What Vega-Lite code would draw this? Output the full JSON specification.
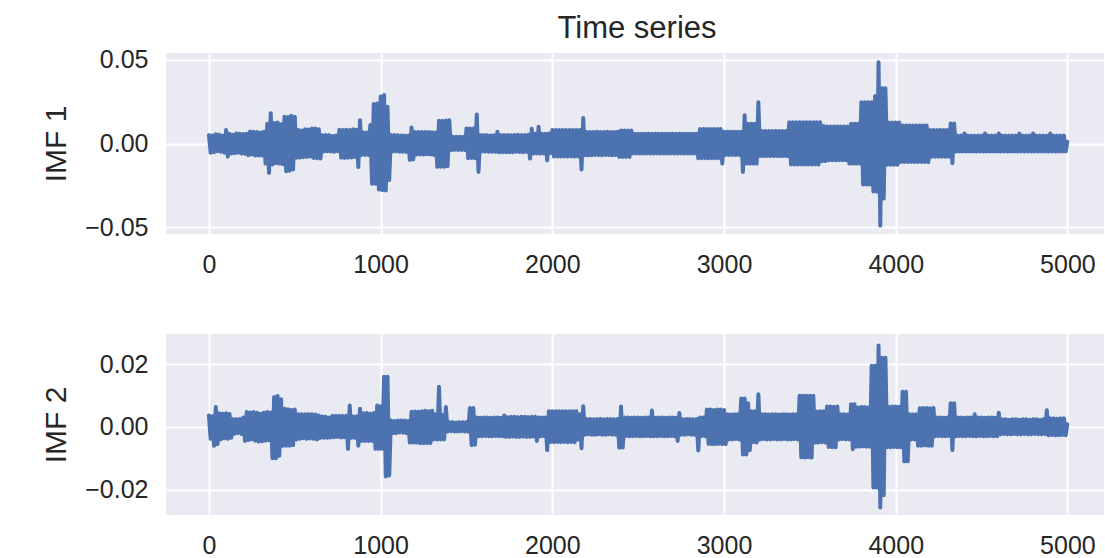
{
  "$schema": "https://vega.github.io/schema/vega-lite/v6.json",
  "padding": {"left": 41, "top": 12, "right": 0, "bottom": 0},
  "spacing": 100,
  "bounds": "flush",
  "data": {"values": [
{"t":0,"a":0.0050,"b":0.0036},{"t":10,"a":-0.0055,"b":-0.0038},{"t":20,"a":0.0048,"b":0.0034},{"t":30,"a":-0.0052,"b":-0.0060},{"t":40,"a":0.0055,"b":0.0063},{"t":50,"a":-0.0046,"b":-0.0055},{"t":60,"a":0.0053,"b":0.0043},{"t":70,"a":-0.0050,"b":-0.0040},{"t":80,"a":0.0047,"b":0.0042},{"t":90,"a":-0.0055,"b":-0.0036},
{"t":100,"a":0.0080,"b":0.0043},{"t":110,"a":-0.0078,"b":-0.0038},{"t":120,"a":0.0058,"b":0.0041},{"t":130,"a":-0.0060,"b":-0.0035},{"t":140,"a":0.0052,"b":0.0025},{"t":150,"a":-0.0058,"b":-0.0022},{"t":160,"a":0.0060,"b":0.0024},{"t":170,"a":-0.0055,"b":-0.0020},{"t":180,"a":0.0058,"b":0.0025},{"t":190,"a":-0.0060,"b":-0.0023},
{"t":200,"a":0.0056,"b":0.0030},{"t":210,"a":-0.0062,"b":-0.0045},{"t":220,"a":0.0058,"b":0.0047},{"t":230,"a":-0.0070,"b":-0.0042},{"t":240,"a":0.0072,"b":0.0046},{"t":250,"a":-0.0066,"b":-0.0040},{"t":260,"a":0.0070,"b":0.0047},{"t":270,"a":-0.0072,"b":-0.0044},{"t":280,"a":0.0068,"b":0.0045},{"t":290,"a":-0.0071,"b":-0.0047},
{"t":300,"a":0.0065,"b":0.0042},{"t":310,"a":-0.0072,"b":-0.0046},{"t":320,"a":0.0070,"b":0.0045},{"t":330,"a":-0.0120,"b":-0.0044},{"t":340,"a":0.0118,"b":0.0047},{"t":350,"a":-0.0175,"b":-0.0043},{"t":360,"a":0.0180,"b":0.0046},{"t":370,"a":-0.0125,"b":-0.0100},{"t":380,"a":0.0122,"b":0.0095},{"t":390,"a":-0.0118,"b":-0.0100},
{"t":400,"a":0.0125,"b":0.0098},{"t":410,"a":-0.0120,"b":-0.0092},{"t":420,"a":0.0115,"b":0.0088},{"t":430,"a":-0.0124,"b":-0.0060},{"t":440,"a":0.0160,"b":0.0058},{"t":450,"a":-0.0165,"b":-0.0060},{"t":460,"a":0.0158,"b":0.0056},{"t":470,"a":-0.0162,"b":-0.0060},{"t":480,"a":0.0165,"b":0.0054},{"t":490,"a":-0.0155,"b":-0.0058},
{"t":500,"a":0.0160,"b":0.0055},{"t":510,"a":-0.0085,"b":-0.0040},{"t":520,"a":0.0080,"b":0.0040},{"t":530,"a":-0.0085,"b":-0.0038},{"t":540,"a":0.0078,"b":0.0040},{"t":550,"a":-0.0082,"b":-0.0036},{"t":560,"a":0.0085,"b":0.0040},{"t":570,"a":-0.0080,"b":-0.0038},{"t":580,"a":0.0084,"b":0.0040},{"t":590,"a":-0.0078,"b":-0.0037},
{"t":600,"a":0.0090,"b":0.0040},{"t":610,"a":-0.0086,"b":-0.0038},{"t":620,"a":0.0090,"b":0.0039},{"t":630,"a":-0.0088,"b":-0.0040},{"t":640,"a":0.0085,"b":0.0036},{"t":650,"a":-0.0090,"b":-0.0035},{"t":660,"a":0.0050,"b":0.0033},{"t":670,"a":-0.0048,"b":-0.0035},{"t":680,"a":0.0050,"b":0.0032},{"t":690,"a":-0.0046,"b":-0.0035},
{"t":700,"a":0.0050,"b":0.0030},{"t":710,"a":-0.0048,"b":-0.0034},{"t":720,"a":0.0045,"b":0.0035},{"t":730,"a":-0.0050,"b":-0.0033},{"t":740,"a":0.0048,"b":0.0035},{"t":750,"a":-0.0046,"b":-0.0032},{"t":760,"a":0.0082,"b":0.0035},{"t":770,"a":-0.0085,"b":-0.0034},{"t":780,"a":0.0080,"b":0.0035},{"t":790,"a":-0.0086,"b":-0.0033},
{"t":800,"a":0.0082,"b":0.0035},{"t":810,"a":-0.0085,"b":-0.0070},{"t":820,"a":0.0080,"b":0.0068},{"t":830,"a":-0.0084,"b":-0.0035},{"t":840,"a":0.0085,"b":0.0033},{"t":850,"a":-0.0080,"b":-0.0035},{"t":860,"a":0.0082,"b":0.0034},{"t":870,"a":-0.0140,"b":-0.0060},{"t":880,"a":0.0138,"b":0.0058},{"t":890,"a":-0.0068,"b":-0.0045},
{"t":900,"a":0.0065,"b":0.0043},{"t":910,"a":-0.0068,"b":-0.0045},{"t":920,"a":0.0066,"b":0.0044},{"t":930,"a":-0.0068,"b":-0.0045},{"t":940,"a":0.0110,"b":0.0042},{"t":950,"a":-0.0240,"b":-0.0045},{"t":960,"a":0.0235,"b":0.0044},{"t":970,"a":-0.0240,"b":-0.0070},{"t":980,"a":0.0238,"b":0.0068},{"t":990,"a":-0.0275,"b":-0.0070},
{"t":1000,"a":0.0280,"b":0.0066},{"t":1010,"a":-0.0278,"b":-0.0070},{"t":1020,"a":0.0290,"b":0.0160},{"t":1030,"a":-0.0280,"b":-0.0158},{"t":1040,"a":0.0220,"b":0.0160},{"t":1050,"a":-0.0218,"b":-0.0155},{"t":1060,"a":0.0050,"b":0.0020},{"t":1070,"a":-0.0048,"b":-0.0020},{"t":1080,"a":0.0050,"b":0.0019},{"t":1090,"a":-0.0047,"b":-0.0020},
{"t":1100,"a":0.0050,"b":0.0020},{"t":1110,"a":-0.0049,"b":-0.0018},{"t":1120,"a":0.0048,"b":0.0020},{"t":1130,"a":-0.0050,"b":-0.0019},{"t":1140,"a":0.0047,"b":0.0020},{"t":1150,"a":-0.0050,"b":-0.0020},{"t":1160,"a":0.0048,"b":0.0019},{"t":1170,"a":-0.0098,"b":-0.0050},{"t":1180,"a":0.0096,"b":0.0048},{"t":1190,"a":-0.0095,"b":-0.0050},
{"t":1200,"a":0.0068,"b":0.0049},{"t":1210,"a":-0.0066,"b":-0.0050},{"t":1220,"a":0.0068,"b":0.0048},{"t":1230,"a":-0.0065,"b":-0.0052},{"t":1240,"a":0.0068,"b":0.0050},{"t":1250,"a":-0.0066,"b":-0.0052},{"t":1260,"a":0.0068,"b":0.0051},{"t":1270,"a":-0.0064,"b":-0.0052},{"t":1280,"a":0.0068,"b":0.0050},{"t":1290,"a":-0.0066,"b":-0.0052},
{"t":1300,"a":0.0067,"b":0.0051},{"t":1310,"a":-0.0068,"b":-0.0040},{"t":1320,"a":0.0066,"b":0.0040},{"t":1330,"a":-0.0139,"b":-0.0040},{"t":1340,"a":0.0136,"b":0.0128},{"t":1350,"a":-0.0139,"b":-0.0040},{"t":1360,"a":0.0135,"b":0.0038},{"t":1370,"a":-0.0138,"b":-0.0040},{"t":1380,"a":0.0137,"b":0.0063},{"t":1390,"a":-0.0135,"b":-0.0015},
{"t":1400,"a":0.0138,"b":0.0015},{"t":1410,"a":-0.0040,"b":-0.0014},{"t":1420,"a":0.0040,"b":0.0015},{"t":1430,"a":-0.0038,"b":-0.0015},{"t":1440,"a":0.0040,"b":0.0014},{"t":1450,"a":-0.0039,"b":-0.0015},{"t":1460,"a":0.0040,"b":0.0015},{"t":1470,"a":-0.0038,"b":-0.0014},{"t":1480,"a":0.0040,"b":0.0015},{"t":1490,"a":-0.0039,"b":-0.0015},
{"t":1500,"a":0.0090,"b":0.0015},{"t":1510,"a":-0.0088,"b":-0.0015},{"t":1520,"a":0.0090,"b":0.0060},{"t":1530,"a":-0.0086,"b":-0.0058},{"t":1540,"a":0.0089,"b":0.0060},{"t":1550,"a":-0.0088,"b":-0.0057},{"t":1560,"a":0.0173,"b":0.0030},{"t":1570,"a":-0.0170,"b":-0.0030},{"t":1580,"a":0.0050,"b":0.0029},{"t":1590,"a":-0.0048,"b":-0.0030},
{"t":1600,"a":0.0050,"b":0.0030},{"t":1610,"a":-0.0048,"b":-0.0029},{"t":1620,"a":0.0050,"b":0.0030},{"t":1630,"a":-0.0049,"b":-0.0030},{"t":1640,"a":0.0048,"b":0.0029},{"t":1650,"a":-0.0050,"b":-0.0030},{"t":1660,"a":0.0049,"b":0.0030},{"t":1670,"a":-0.0050,"b":-0.0029},{"t":1680,"a":0.0070,"b":0.0030},{"t":1690,"a":-0.0052,"b":-0.0030},
{"t":1700,"a":0.0050,"b":0.0029},{"t":1710,"a":-0.0052,"b":-0.0030},{"t":1720,"a":0.0050,"b":0.0036},{"t":1730,"a":-0.0052,"b":-0.0032},{"t":1740,"a":0.0051,"b":0.0031},{"t":1750,"a":-0.0052,"b":-0.0032},{"t":1760,"a":0.0050,"b":0.0032},{"t":1770,"a":-0.0052,"b":-0.0031},{"t":1780,"a":0.0051,"b":0.0032},{"t":1790,"a":-0.0050,"b":-0.0032},
{"t":1800,"a":0.0052,"b":0.0031},{"t":1810,"a":-0.0051,"b":-0.0032},{"t":1820,"a":0.0050,"b":0.0032},{"t":1830,"a":-0.0052,"b":-0.0031},{"t":1840,"a":0.0051,"b":0.0032},{"t":1850,"a":-0.0050,"b":-0.0032},{"t":1860,"a":0.0052,"b":0.0031},{"t":1870,"a":-0.0090,"b":-0.0032},{"t":1880,"a":0.0088,"b":0.0032},{"t":1890,"a":-0.0060,"b":-0.0031},
{"t":1900,"a":0.0058,"b":0.0032},{"t":1910,"a":-0.0060,"b":-0.0045},{"t":1920,"a":0.0100,"b":0.0030},{"t":1930,"a":-0.0060,"b":-0.0031},{"t":1940,"a":0.0058,"b":0.0030},{"t":1950,"a":-0.0060,"b":-0.0029},{"t":1960,"a":0.0058,"b":0.0030},{"t":1970,"a":-0.0100,"b":-0.0074},{"t":1980,"a":0.0060,"b":0.0050},{"t":1990,"a":-0.0058,"b":-0.0048},
{"t":2000,"a":0.0080,"b":0.0050},{"t":2010,"a":-0.0078,"b":-0.0049},{"t":2020,"a":0.0080,"b":0.0050},{"t":2030,"a":-0.0077,"b":-0.0048},{"t":2040,"a":0.0080,"b":0.0050},{"t":2050,"a":-0.0078,"b":-0.0049},{"t":2060,"a":0.0080,"b":0.0050},{"t":2070,"a":-0.0077,"b":-0.0048},{"t":2080,"a":0.0080,"b":0.0050},{"t":2090,"a":-0.0078,"b":-0.0049},
{"t":2100,"a":0.0080,"b":0.0050},{"t":2110,"a":-0.0077,"b":-0.0048},{"t":2120,"a":0.0080,"b":0.0050},{"t":2130,"a":-0.0078,"b":-0.0049},{"t":2140,"a":0.0080,"b":0.0050},{"t":2150,"a":-0.0077,"b":-0.0040},{"t":2160,"a":0.0080,"b":0.0040},{"t":2170,"a":-0.0155,"b":-0.0068},{"t":2180,"a":0.0152,"b":0.0066},{"t":2190,"a":-0.0070,"b":-0.0025},
{"t":2200,"a":0.0068,"b":0.0025},{"t":2210,"a":-0.0070,"b":-0.0024},{"t":2220,"a":0.0068,"b":0.0025},{"t":2230,"a":-0.0070,"b":-0.0025},{"t":2240,"a":0.0069,"b":0.0024},{"t":2250,"a":-0.0068,"b":-0.0025},{"t":2260,"a":0.0070,"b":0.0025},{"t":2270,"a":-0.0069,"b":-0.0024},{"t":2280,"a":0.0068,"b":0.0025},{"t":2290,"a":-0.0070,"b":-0.0025},
{"t":2300,"a":0.0069,"b":0.0024},{"t":2310,"a":-0.0068,"b":-0.0025},{"t":2320,"a":0.0070,"b":0.0025},{"t":2330,"a":-0.0069,"b":-0.0024},{"t":2340,"a":0.0068,"b":0.0025},{"t":2350,"a":-0.0070,"b":-0.0025},{"t":2360,"a":0.0069,"b":0.0024},{"t":2370,"a":-0.0068,"b":-0.0025},{"t":2380,"a":0.0070,"b":0.0025},{"t":2390,"a":-0.0080,"b":-0.0066},
{"t":2400,"a":0.0078,"b":0.0065},{"t":2410,"a":-0.0080,"b":-0.0066},{"t":2420,"a":0.0078,"b":0.0030},{"t":2430,"a":-0.0080,"b":-0.0029},{"t":2440,"a":0.0078,"b":0.0030},{"t":2450,"a":-0.0080,"b":-0.0030},{"t":2460,"a":0.0078,"b":0.0029},{"t":2470,"a":-0.0060,"b":-0.0030},{"t":2480,"a":0.0058,"b":0.0030},{"t":2490,"a":-0.0060,"b":-0.0029},
{"t":2500,"a":0.0058,"b":0.0030},{"t":2510,"a":-0.0060,"b":-0.0030},{"t":2520,"a":0.0058,"b":0.0029},{"t":2530,"a":-0.0060,"b":-0.0030},{"t":2540,"a":0.0058,"b":0.0030},{"t":2550,"a":-0.0060,"b":-0.0029},{"t":2560,"a":0.0058,"b":0.0030},{"t":2570,"a":-0.0060,"b":-0.0030},{"t":2580,"a":0.0058,"b":0.0052},{"t":2590,"a":-0.0060,"b":-0.0030},
{"t":2600,"a":0.0058,"b":0.0029},{"t":2610,"a":-0.0060,"b":-0.0030},{"t":2620,"a":0.0058,"b":0.0030},{"t":2630,"a":-0.0060,"b":-0.0029},{"t":2640,"a":0.0058,"b":0.0030},{"t":2650,"a":-0.0060,"b":-0.0030},{"t":2660,"a":0.0058,"b":0.0029},{"t":2670,"a":-0.0060,"b":-0.0030},{"t":2680,"a":0.0058,"b":0.0030},{"t":2690,"a":-0.0060,"b":-0.0029},
{"t":2700,"a":0.0058,"b":0.0030},{"t":2710,"a":-0.0060,"b":-0.0030},{"t":2720,"a":0.0058,"b":0.0029},{"t":2730,"a":-0.0060,"b":-0.0045},{"t":2740,"a":0.0058,"b":0.0044},{"t":2750,"a":-0.0060,"b":-0.0025},{"t":2760,"a":0.0058,"b":0.0024},{"t":2770,"a":-0.0060,"b":-0.0025},{"t":2780,"a":0.0058,"b":0.0025},{"t":2790,"a":-0.0060,"b":-0.0024},
{"t":2800,"a":0.0058,"b":0.0025},{"t":2810,"a":-0.0060,"b":-0.0025},{"t":2820,"a":0.0058,"b":0.0024},{"t":2830,"a":-0.0060,"b":-0.0025},{"t":2840,"a":0.0058,"b":0.0025},{"t":2850,"a":-0.0088,"b":-0.0075},{"t":2860,"a":0.0086,"b":0.0030},{"t":2870,"a":-0.0088,"b":-0.0029},{"t":2880,"a":0.0086,"b":0.0030},{"t":2890,"a":-0.0088,"b":-0.0030},
{"t":2900,"a":0.0086,"b":0.0055},{"t":2910,"a":-0.0088,"b":-0.0054},{"t":2920,"a":0.0086,"b":0.0055},{"t":2930,"a":-0.0088,"b":-0.0055},{"t":2940,"a":0.0086,"b":0.0054},{"t":2950,"a":-0.0088,"b":-0.0055},{"t":2960,"a":0.0086,"b":0.0055},{"t":2970,"a":-0.0088,"b":-0.0054},{"t":2980,"a":0.0086,"b":0.0055},{"t":2990,"a":-0.0120,"b":-0.0055},
{"t":3000,"a":0.0070,"b":0.0054},{"t":3010,"a":-0.0068,"b":-0.0055},{"t":3020,"a":0.0070,"b":0.0040},{"t":3030,"a":-0.0069,"b":-0.0040},{"t":3040,"a":0.0070,"b":0.0039},{"t":3050,"a":-0.0068,"b":-0.0040},{"t":3060,"a":0.0070,"b":0.0040},{"t":3070,"a":-0.0069,"b":-0.0039},{"t":3080,"a":0.0070,"b":0.0040},{"t":3090,"a":-0.0068,"b":-0.0040},
{"t":3100,"a":0.0070,"b":0.0090},{"t":3110,"a":-0.0170,"b":-0.0088},{"t":3120,"a":0.0168,"b":0.0090},{"t":3130,"a":-0.0120,"b":-0.0088},{"t":3140,"a":0.0118,"b":0.0075},{"t":3150,"a":-0.0120,"b":-0.0074},{"t":3160,"a":0.0118,"b":0.0050},{"t":3170,"a":-0.0120,"b":-0.0049},{"t":3180,"a":0.0118,"b":0.0050},{"t":3190,"a":-0.0120,"b":-0.0050},
{"t":3200,"a":0.0246,"b":0.0104},{"t":3210,"a":-0.0075,"b":-0.0040},{"t":3220,"a":0.0074,"b":0.0040},{"t":3230,"a":-0.0075,"b":-0.0039},{"t":3240,"a":0.0074,"b":0.0040},{"t":3250,"a":-0.0075,"b":-0.0040},{"t":3260,"a":0.0074,"b":0.0039},{"t":3270,"a":-0.0075,"b":-0.0040},{"t":3280,"a":0.0074,"b":0.0040},{"t":3290,"a":-0.0075,"b":-0.0039},
{"t":3300,"a":0.0074,"b":0.0040},{"t":3310,"a":-0.0075,"b":-0.0040},{"t":3320,"a":0.0074,"b":0.0039},{"t":3330,"a":-0.0075,"b":-0.0040},{"t":3340,"a":0.0074,"b":0.0040},{"t":3350,"a":-0.0075,"b":-0.0039},{"t":3360,"a":0.0074,"b":0.0040},{"t":3370,"a":-0.0075,"b":-0.0040},{"t":3380,"a":0.0127,"b":0.0039},{"t":3390,"a":-0.0125,"b":-0.0040},
{"t":3400,"a":0.0127,"b":0.0040},{"t":3410,"a":-0.0125,"b":-0.0039},{"t":3420,"a":0.0127,"b":0.0040},{"t":3430,"a":-0.0125,"b":-0.0040},{"t":3440,"a":0.0127,"b":0.0099},{"t":3450,"a":-0.0125,"b":-0.0097},{"t":3460,"a":0.0127,"b":0.0099},{"t":3470,"a":-0.0125,"b":-0.0098},{"t":3480,"a":0.0127,"b":0.0099},{"t":3490,"a":-0.0125,"b":-0.0097},
{"t":3500,"a":0.0127,"b":0.0099},{"t":3510,"a":-0.0125,"b":-0.0098},{"t":3520,"a":0.0127,"b":0.0099},{"t":3530,"a":-0.0125,"b":-0.0050},{"t":3540,"a":0.0127,"b":0.0049},{"t":3550,"a":-0.0125,"b":-0.0050},{"t":3560,"a":0.0127,"b":0.0050},{"t":3570,"a":-0.0105,"b":-0.0049},{"t":3580,"a":0.0104,"b":0.0050},{"t":3590,"a":-0.0105,"b":-0.0050},
{"t":3600,"a":0.0101,"b":0.0065},{"t":3610,"a":-0.0100,"b":-0.0064},{"t":3620,"a":0.0101,"b":0.0065},{"t":3630,"a":-0.0100,"b":-0.0065},{"t":3640,"a":0.0101,"b":0.0064},{"t":3650,"a":-0.0100,"b":-0.0065},{"t":3660,"a":0.0101,"b":0.0065},{"t":3670,"a":-0.0100,"b":-0.0040},{"t":3680,"a":0.0101,"b":0.0040},{"t":3690,"a":-0.0100,"b":-0.0039},
{"t":3700,"a":0.0101,"b":0.0040},{"t":3710,"a":-0.0100,"b":-0.0040},{"t":3720,"a":0.0101,"b":0.0039},{"t":3730,"a":-0.0120,"b":-0.0040},{"t":3740,"a":0.0118,"b":0.0072},{"t":3750,"a":-0.0120,"b":-0.0071},{"t":3760,"a":0.0118,"b":0.0072},{"t":3770,"a":-0.0120,"b":-0.0063},{"t":3780,"a":0.0118,"b":0.0062},{"t":3790,"a":-0.0120,"b":-0.0063},
{"t":3800,"a":0.0246,"b":0.0063},{"t":3810,"a":-0.0244,"b":-0.0062},{"t":3820,"a":0.0246,"b":0.0063},{"t":3830,"a":-0.0244,"b":-0.0063},{"t":3840,"a":0.0246,"b":0.0062},{"t":3850,"a":-0.0244,"b":-0.0063},{"t":3860,"a":0.0246,"b":0.0195},{"t":3870,"a":-0.0286,"b":-0.0193},{"t":3880,"a":0.0284,"b":0.0195},{"t":3890,"a":-0.0286,"b":-0.0193},
{"t":3900,"a":0.0485,"b":0.0259},{"t":3910,"a":-0.0490,"b":-0.0257},{"t":3920,"a":0.0330,"b":0.0220},{"t":3930,"a":-0.0328,"b":-0.0218},{"t":3940,"a":0.0330,"b":0.0220},{"t":3950,"a":-0.0127,"b":-0.0065},{"t":3960,"a":0.0125,"b":0.0064},{"t":3970,"a":-0.0127,"b":-0.0065},{"t":3980,"a":0.0125,"b":0.0065},{"t":3990,"a":-0.0127,"b":-0.0064},
{"t":4000,"a":0.0125,"b":0.0065},{"t":4010,"a":-0.0127,"b":-0.0065},{"t":4020,"a":0.0125,"b":0.0064},{"t":4030,"a":-0.0110,"b":-0.0065},{"t":4040,"a":0.0108,"b":0.0112},{"t":4050,"a":-0.0110,"b":-0.0110},{"t":4060,"a":0.0108,"b":0.0112},{"t":4070,"a":-0.0110,"b":-0.0110},{"t":4080,"a":0.0108,"b":0.0040},{"t":4090,"a":-0.0110,"b":-0.0040},
{"t":4100,"a":0.0108,"b":0.0039},{"t":4110,"a":-0.0110,"b":-0.0040},{"t":4120,"a":0.0108,"b":0.0040},{"t":4130,"a":-0.0110,"b":-0.0060},{"t":4140,"a":0.0108,"b":0.0059},{"t":4150,"a":-0.0110,"b":-0.0060},{"t":4160,"a":0.0108,"b":0.0060},{"t":4170,"a":-0.0110,"b":-0.0059},{"t":4180,"a":0.0108,"b":0.0060},{"t":4190,"a":-0.0110,"b":-0.0060},
{"t":4200,"a":0.0080,"b":0.0059},{"t":4210,"a":-0.0079,"b":-0.0060},{"t":4220,"a":0.0080,"b":0.0060},{"t":4230,"a":-0.0079,"b":-0.0030},{"t":4240,"a":0.0080,"b":0.0030},{"t":4250,"a":-0.0079,"b":-0.0029},{"t":4260,"a":0.0080,"b":0.0030},{"t":4270,"a":-0.0079,"b":-0.0030},{"t":4280,"a":0.0080,"b":0.0029},{"t":4290,"a":-0.0079,"b":-0.0030},
{"t":4300,"a":0.0080,"b":0.0030},{"t":4310,"a":-0.0079,"b":-0.0029},{"t":4320,"a":0.0120,"b":0.0075},{"t":4330,"a":-0.0118,"b":-0.0074},{"t":4340,"a":0.0120,"b":0.0075},{"t":4350,"a":-0.0048,"b":-0.0030},{"t":4360,"a":0.0047,"b":0.0030},{"t":4370,"a":-0.0048,"b":-0.0029},{"t":4380,"a":0.0047,"b":0.0030},{"t":4390,"a":-0.0048,"b":-0.0030},
{"t":4400,"a":0.0060,"b":0.0029},{"t":4410,"a":-0.0048,"b":-0.0030},{"t":4420,"a":0.0047,"b":0.0030},{"t":4430,"a":-0.0048,"b":-0.0029},{"t":4440,"a":0.0047,"b":0.0030},{"t":4450,"a":-0.0048,"b":-0.0030},{"t":4460,"a":0.0047,"b":0.0040},{"t":4470,"a":-0.0048,"b":-0.0030},{"t":4480,"a":0.0047,"b":0.0030},{"t":4490,"a":-0.0048,"b":-0.0029},
{"t":4500,"a":0.0047,"b":0.0030},{"t":4510,"a":-0.0048,"b":-0.0030},{"t":4520,"a":0.0060,"b":0.0029},{"t":4530,"a":-0.0048,"b":-0.0030},{"t":4540,"a":0.0047,"b":0.0030},{"t":4550,"a":-0.0048,"b":-0.0029},{"t":4560,"a":0.0047,"b":0.0030},{"t":4570,"a":-0.0048,"b":-0.0030},{"t":4580,"a":0.0047,"b":0.0029},{"t":4590,"a":-0.0048,"b":-0.0030},
{"t":4600,"a":0.0060,"b":0.0045},{"t":4610,"a":-0.0048,"b":-0.0024},{"t":4620,"a":0.0047,"b":0.0024},{"t":4630,"a":-0.0048,"b":-0.0023},{"t":4640,"a":0.0047,"b":0.0024},{"t":4650,"a":-0.0048,"b":-0.0024},{"t":4660,"a":0.0047,"b":0.0023},{"t":4670,"a":-0.0048,"b":-0.0024},{"t":4680,"a":0.0047,"b":0.0024},{"t":4690,"a":-0.0048,"b":-0.0023},
{"t":4700,"a":0.0047,"b":0.0024},{"t":4710,"a":-0.0048,"b":-0.0024},{"t":4720,"a":0.0060,"b":0.0023},{"t":4730,"a":-0.0048,"b":-0.0024},{"t":4740,"a":0.0047,"b":0.0024},{"t":4750,"a":-0.0048,"b":-0.0023},{"t":4760,"a":0.0047,"b":0.0024},{"t":4770,"a":-0.0048,"b":-0.0024},{"t":4780,"a":0.0047,"b":0.0023},{"t":4790,"a":-0.0048,"b":-0.0024},
{"t":4800,"a":0.0060,"b":0.0024},{"t":4810,"a":-0.0048,"b":-0.0023},{"t":4820,"a":0.0047,"b":0.0024},{"t":4830,"a":-0.0048,"b":-0.0024},{"t":4840,"a":0.0047,"b":0.0023},{"t":4850,"a":-0.0048,"b":-0.0024},{"t":4860,"a":0.0047,"b":0.0024},{"t":4870,"a":-0.0048,"b":-0.0023},{"t":4880,"a":0.0047,"b":0.0053},{"t":4890,"a":-0.0048,"b":-0.0027},
{"t":4900,"a":0.0060,"b":0.0027},{"t":4910,"a":-0.0048,"b":-0.0026},{"t":4920,"a":0.0047,"b":0.0027},{"t":4930,"a":-0.0048,"b":-0.0027},{"t":4940,"a":0.0047,"b":0.0026},{"t":4950,"a":-0.0048,"b":-0.0027},{"t":4960,"a":0.0047,"b":0.0027},{"t":4970,"a":-0.0048,"b":-0.0026},{"t":4980,"a":0.0047,"b":0.0027},{"t":4990,"a":-0.0048,"b":-0.0027},{"t":4999,"a":0.0010,"b":0.0008}
  ]},
  "vconcat": [
    {
      "title": {"text": "Time series", "frame": "group", "anchor": "middle", "baseline": "bottom", "offset": -28, "fontSize": 31, "font": "Liberation Sans", "fontWeight": "normal", "color": "#262626", "dx": 2},
      "width": 938,
      "height": 181,
      "mark": {"type": "line", "color": "#4C72B0", "strokeWidth": 4, "strokeJoin": "round", "strokeCap": "round", "clip": true},
      "encoding": {
        "x": {"field": "t", "type": "quantitative", "scale": {"domain": [-250, 5213], "nice": false, "zero": false}, "axis": {"title": null, "values": [0, 1000, 2000, 3000, 4000, 5000], "format": "d"}},
        "y": {"field": "a", "type": "quantitative", "scale": {"domain": [-0.054, 0.054], "nice": false, "zero": false}, "axis": {"title": "IMF 1", "values": [-0.05, 0, 0.05], "format": ".2f"}}
      }
    },
    {
      "width": 938,
      "height": 181,
      "mark": {"type": "line", "color": "#4C72B0", "strokeWidth": 4, "strokeJoin": "round", "strokeCap": "round", "clip": true},
      "encoding": {
        "x": {"field": "t", "type": "quantitative", "scale": {"domain": [-250, 5213], "nice": false, "zero": false}, "axis": {"title": null, "values": [0, 1000, 2000, 3000, 4000, 5000], "format": "d"}},
        "y": {"field": "b", "type": "quantitative", "scale": {"domain": [-0.0281, 0.0296], "nice": false, "zero": false}, "axis": {"title": "IMF 2", "values": [-0.02, 0, 0.02], "format": ".2f"}}
      }
    }
  ],
  "config": {
    "background": "#FFFFFF",
    "view": {"fill": "#EAEAF2", "stroke": null},
    "axis": {"domain": false, "ticks": false, "tickSize": 0, "grid": true, "gridColor": "#FFFFFF", "gridWidth": 2, "labelFont": "Liberation Sans", "labelFontSize": 25, "labelColor": "#262626", "labelPadding": 18, "labelFlush": false, "labelOverlap": false, "titleFont": "Liberation Sans", "titleFontSize": 30, "titleFontWeight": "normal", "titleColor": "#262626", "titlePadding": 13}
  }
}
